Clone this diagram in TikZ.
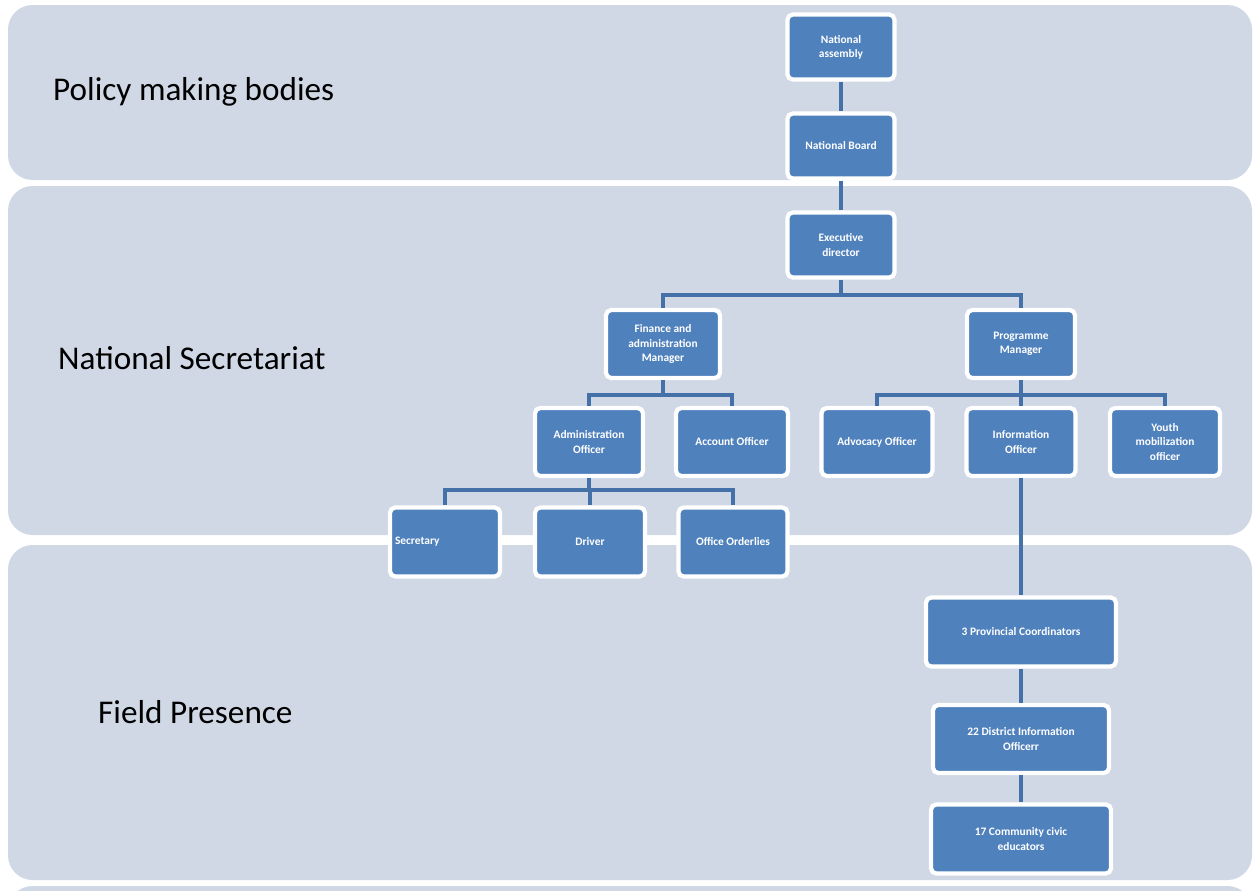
\documentclass[tikz,border=0pt]{standalone}
\usepackage{fontspec}
\setmainfont{Carlito}
\definecolor{band}{HTML}{D0D8E6}
\definecolor{boxblue}{HTML}{4F81BD}
\definecolor{linkblue}{HTML}{4471A8}
\begin{document}
\begin{tikzpicture}[x=0.02cm,y=-0.02cm,
  bandbox/.style={fill=band,draw=none,rounded corners=14pt},
  orgbox/.style={fill=boxblue,draw=white,line width=2.4pt,rounded corners=3pt,
    text=white,font=\fontsize{6.5}{8}\selectfont\bfseries,align=center,inner sep=1pt},
  link/.style={draw=linkblue,line width=2.3pt},
  bandlabel/.style={anchor=west,font=\fontsize{18.9}{22}\selectfont,text=black}]
\useasboundingbox (0,0) rectangle (1255,890);
\fill[white] (0,0) rectangle (1255,890);
% bands
\path[bandbox] (8,5) rectangle (1252,180);
\path[bandbox] (8,186) rectangle (1252,535);
\path[bandbox] (8,545) rectangle (1252,880);
\path[bandbox] (8,886) rectangle (1252,1000);
% labels
\node[bandlabel] (l1) at (47,92) {Policy making bodies};
\node[bandlabel] (l2) at (52,358) {National Secretariat};
\node[bandlabel] (l3) at (92,712) {Field Presence};
% nodes
\node[orgbox,minimum width=107*0.02cm,minimum height=65*0.02cm] (na) at (841,47) {National\\assembly};
\node[orgbox,minimum width=107*0.02cm,minimum height=65*0.02cm] (nb) at (841,146) {National Board};
\node[orgbox,minimum width=107*0.02cm,minimum height=65*0.02cm] (ed) at (841,245) {Executive\\director};
\node[orgbox,minimum width=114*0.02cm,minimum height=68*0.02cm] (fm) at (663,344) {Finance and\\administration\\Manager};
\node[orgbox,minimum width=108*0.02cm,minimum height=68*0.02cm] (pm) at (1021,344) {Programme\\Manager};
\node[orgbox,minimum width=108*0.02cm,minimum height=68*0.02cm] (ao) at (589,442) {Administration\\Officer};
\node[orgbox,minimum width=112*0.02cm,minimum height=68*0.02cm] (acc) at (732,442) {Account Officer};
\node[orgbox,minimum width=111*0.02cm,minimum height=68*0.02cm] (adv) at (877,442) {Advocacy Officer};
\node[orgbox,minimum width=109*0.02cm,minimum height=68*0.02cm] (io) at (1021,442) {Information\\Officer};
\node[orgbox,minimum width=110*0.02cm,minimum height=68*0.02cm] (ym) at (1165,442) {Youth\\mobilization\\officer};
\node[orgbox,minimum width=110*0.02cm,minimum height=69*0.02cm,text width=100*0.02cm,align=left] (sec) at (445,542) {Secretary};
\node[orgbox,minimum width=110*0.02cm,minimum height=69*0.02cm] (drv) at (590,542) {Driver};
\node[orgbox,minimum width=109*0.02cm,minimum height=69*0.02cm] (ord) at (733,542) {Office Orderlies};
\node[orgbox,minimum width=190*0.02cm,minimum height=69*0.02cm] (pc) at (1021,632) {3 Provincial Coordinators};
\node[orgbox,minimum width=176*0.02cm,minimum height=68*0.02cm] (dio) at (1021,739) {22 District Information\\Officerr};
\node[orgbox,minimum width=180*0.02cm,minimum height=69*0.02cm] (cce) at (1021,839) {17 Community civic\\educators};
% connectors
\draw[link] (na.south) -- (nb.north);
\draw[link] (nb.south) -- (ed.north);
\draw[link] (ed.south) -- (841,295) -| (fm.north);
\draw[link] (841,295) -| (pm.north);
\draw[link] (fm.south) -- (663,395) -| (ao.north);
\draw[link] (663,395) -| (acc.north);
\draw[link] (pm.south) -- (1021,395) -| (adv.north);
\draw[link] (1021,395) -| (io.north);
\draw[link] (1021,395) -| (ym.north);
\draw[link] (ao.south) -- (589,490) -| (sec.north);
\draw[link] (589,490) -| (drv.north);
\draw[link] (589,490) -| (ord.north);
\draw[link] (io.south) -- (pc.north);
\draw[link] (pc.south) -- (dio.north);
\draw[link] (dio.south) -- (cce.north);
\end{tikzpicture}
\end{document}
